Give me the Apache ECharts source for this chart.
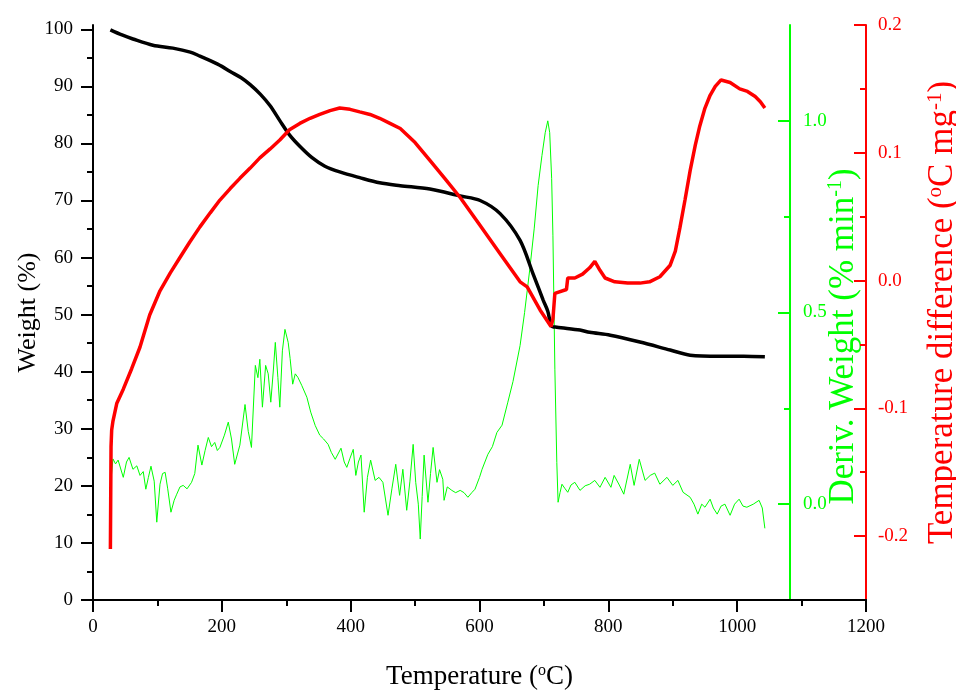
<!DOCTYPE html>
<html><head><meta charset="utf-8">
<script src="https://cdn.jsdelivr.net/npm/echarts@6/dist/echarts.min.js"></script>
<style>html,body{margin:0;padding:0;background:#fff}#c{width:956px;height:690px}</style>
</head><body><div id="c"></div>
<script>
// TGA weight curve (black)
const tgaTemp = [27,45,62,93,124,151,166,182,200,213,230,244,260,275,290,305,321,340,360,383,414,445,477,523,570,601,632,663,683,699,706,712,720,756,771,803,849,896,927,973,1010,1043];
const tgaWeight = [99.9,99.0,98.3,97.2,96.7,96.0,95.3,94.5,93.5,92.6,91.5,90.3,88.6,86.6,84.0,81.5,79.5,77.5,76.0,75.0,74.0,73.1,72.6,72.0,70.8,70.0,67.7,63.0,57.2,52.5,50.6,48.0,47.8,47.3,46.9,46.4,45.2,43.8,42.9,42.7,42.7,42.6];
// DTA temperature difference curve (red)
const dtaTemp = [27,27.5,28,29,31,37,47,60,73,88,104,120,135,150,166,182,197,213,228,244,259,275,290,305,321,337,352,368,383,399,414,430,445,461,477,500,523,546,570,601,632,663,674,694,711,714,717,735,737,748,760,771,779,787,795,810,830,849,864,880,896,904,911,919,927,935,942,950,958,966,975,989,1004,1016,1028,1036,1043];
const dtaDiff = [-0.21,-0.17,-0.13,-0.117,-0.110,-0.096,-0.085,-0.069,-0.052,-0.027,-0.008,0.006,0.018,0.030,0.042,0.053,0.063,0.072,0.080,0.088,0.096,0.103,0.110,0.118,0.123,0.127,0.130,0.133,0.135,0.134,0.132,0.130,0.127,0.123,0.119,0.108,0.094,0.080,0.065,0.043,0.021,-0.001,-0.005,-0.023,-0.036,-0.030,-0.010,-0.007,0.002,0.002,0.005,0.010,0.015,0.008,0.002,-0.001,-0.002,-0.002,-0.001,0.003,0.012,0.023,0.041,0.063,0.086,0.106,0.121,0.135,0.145,0.152,0.157,0.155,0.150,0.148,0.144,0.140,0.135];
// DTG derivative weight curve (green)
const dtgTemp = [28,31,35,39,47,52,56,62,68,73,78,82,86,90,95,99,104,108,112,116,121,126,130,135,140,146,153,158,163,169,174,179,184,189,193,197,204,210,215,220,228,236,241,246,252,256,259,263,268,272,276,280,283,287,290,294,298,303,306,310,314,318,324,332,338,345,352,358,365,370,376,385,390,394,399,404,408,412,416,421,426,431,438,444,450,458,464,470,476,481,487,492,497,501,505,508,511,514,520,524,528,534,538,543,545,550,557,563,570,576,582,588,593,600,604,613,620,627,635,644,652,663,670,678,685,691,697,702,706,709,712,714,717,720,722,725,728,733,737,742,748,756,764,771,779,787,795,804,809,817,824,834,840,848,857,865,872,880,891,900,908,916,927,933,939,945,950,958,963,969,975,981,989,996,1003,1009,1015,1025,1034,1039,1043];
const dtgDeriv = [0.065,0.118,0.105,0.115,0.070,0.110,0.122,0.091,0.100,0.075,0.085,0.039,0.070,0.099,0.060,-0.047,0.052,0.080,0.083,0.040,-0.021,0.010,0.026,0.045,0.049,0.040,0.057,0.080,0.154,0.102,0.140,0.174,0.150,0.161,0.140,0.148,0.180,0.214,0.170,0.104,0.154,0.260,0.190,0.148,0.362,0.330,0.378,0.253,0.362,0.340,0.266,0.350,0.422,0.330,0.253,0.400,0.456,0.422,0.380,0.313,0.340,0.331,0.310,0.279,0.240,0.205,0.180,0.170,0.156,0.135,0.117,0.146,0.110,0.096,0.120,0.143,0.075,0.110,0.128,-0.021,0.070,0.115,0.062,0.070,0.057,-0.029,0.040,0.104,0.023,0.091,-0.016,0.060,0.156,0.057,0.000,-0.091,0.020,0.128,0.005,0.080,0.148,0.057,0.090,0.065,0.010,0.045,0.036,0.030,0.036,0.030,0.018,0.030,0.039,0.070,0.091,0.130,0.150,0.187,0.206,0.266,0.320,0.414,0.500,0.612,0.720,0.831,0.910,0.969,1.000,0.969,0.850,0.700,0.352,0.109,0.005,0.030,0.052,0.040,0.031,0.050,0.057,0.036,0.048,0.052,0.062,0.044,0.070,0.044,0.075,0.050,0.026,0.104,0.049,0.117,0.062,0.075,0.081,0.052,0.070,0.049,0.062,0.031,0.018,0.000,-0.026,0.000,-0.008,0.013,-0.010,-0.026,-0.005,0.000,-0.029,0.000,0.013,-0.005,-0.008,0.000,0.010,-0.010,-0.063];
// tick values
const weightTicks = [0,10,20,30,40,50,60,70,80,90,100];
const weightMinor = [5,15,25,35,45,55,65,75,85,95];
const derivTicks = [0,0.5,1.0];
const derivMinor = [0.25,0.75];
const diffTicks = [-0.2,-0.1,0,0.1,0.2];
const diffMinor = [-0.15,-0.05,0.05,0.15];

const FONT = 'Liberation Serif';
const GREEN = '#00ff00';
const RED = '#ff0000';
const zip = (a, b) => a.map((v, i) => [v, b[i]]);

function mainY(o) {
  return Object.assign({
    type: 'value', gridIndex: 0, splitLine: {show: false}, nameMoveOverlap: false,
    axisLine: {show: true, lineStyle: {color: o.color, width: 2}},
    axisTick: {show: true, inside: o.inside, length: 12, customValues: o.ticks, lineStyle: {color: o.color, width: 2}},
    axisLabel: {show: true, customValues: o.ticks, margin: o.margin, color: o.color, fontFamily: FONT, fontSize: 19, formatter: o.fmt}
  }, o.extra);
}
function minorY(o) {
  return {
    type: 'value', gridIndex: 0, position: o.position, offset: o.offset || 0, min: o.min, max: o.max,
    splitLine: {show: false}, axisLine: {show: false},
    axisTick: {show: true, inside: o.inside, length: 6, customValues: o.ticks, lineStyle: {color: o.color, width: 2}},
    axisLabel: {show: false}
  };
}

const chart = echarts.init(document.getElementById('c'), null, {renderer: 'canvas'});
chart.setOption({
  animation: false,
  backgroundColor: '#ffffff',
  grid: {left: 93, right: 90, top: 25, bottom: 90, containLabel: false, outerBoundsMode: 'none'},
  xAxis: [
    {
      type: 'value', min: 0, max: 1200, interval: 200, position: 'bottom', nameMoveOverlap: false,
      axisLine: {lineStyle: {color: '#000', width: 2}},
      axisTick: {length: 12, lineStyle: {color: '#000', width: 2}},
      minorTick: {show: true, splitNumber: 2, length: 6, lineStyle: {color: '#000', width: 2}},
      splitLine: {show: false}, minorSplitLine: {show: false},
      axisLabel: {margin: 18, color: '#000', fontFamily: FONT, fontSize: 19, formatter: v => String(v)},
      name: 'Temperature ({s|o}C)', nameLocation: 'middle', nameGap: 63,
      nameTextStyle: {color: '#000', fontFamily: FONT, fontSize: 27, rich: {s: {fontSize: 16, verticalAlign: 'top', fontFamily: FONT, color: '#000'}}}
    },
    {
      type: 'value', min: 0, max: 1200, position: 'top',
      axisLine: {lineStyle: {color: '#000', width: 2}},
      axisTick: {show: false}, axisLabel: {show: false}, splitLine: {show: false}
    }
  ],
  yAxis: [
    mainY({color: '#000', inside: false, ticks: weightTicks, margin: 20, fmt: v => String(v), extra: {
      position: 'left', min: 0, max: 100.75,
      name: 'Weight (%)', nameLocation: 'middle', nameGap: 52,
      nameTextStyle: {color: '#000', fontFamily: FONT, fontSize: 26}
    }}),
    minorY({position: 'left', min: 0, max: 100.75, inside: false, ticks: weightMinor, color: '#000'}),
    mainY({color: GREEN, inside: true, ticks: derivTicks, margin: 13, fmt: v => Number(v).toFixed(1), extra: {
      position: 'right', offset: -76, min: -0.25, max: 1.25,
      name: 'Deriv. Weight (% min{s|-1})', nameLocation: 'middle', nameGap: 36,
      nameTextStyle: {color: GREEN, fontFamily: FONT, fontSize: 35, padding: [0, 48, 0, 0], rich: {s: {fontSize: 20, verticalAlign: 'top', fontFamily: FONT, color: GREEN}}}
    }}),
    minorY({position: 'right', offset: -76, min: -0.25, max: 1.25, inside: true, ticks: derivMinor, color: GREEN}),
    mainY({color: RED, inside: true, ticks: diffTicks, margin: 12, fmt: v => Number(v).toFixed(1), extra: {
      position: 'right', offset: 0, min: -0.25, max: 0.2,
      name: 'Temperature difference ({s|o}C mg{s|-1})', nameLocation: 'middle', nameGap: 59,
      nameTextStyle: {color: RED, fontFamily: FONT, fontSize: 35, rich: {s: {fontSize: 21, verticalAlign: 'top', fontFamily: FONT, color: RED}}}
    }}),
    minorY({position: 'right', offset: 0, min: -0.25, max: 0.2, inside: true, ticks: diffMinor, color: RED})
  ],
  series: [
    {type: 'line', name: 'DTG', xAxisIndex: 0, yAxisIndex: 2, data: zip(dtgTemp, dtgDeriv), symbol: 'none', lineStyle: {color: GREEN, width: 1}, z: 2},
    {type: 'line', name: 'TGA', xAxisIndex: 0, yAxisIndex: 0, data: zip(tgaTemp, tgaWeight), symbol: 'none', smooth: 0.3, lineStyle: {color: '#000', width: 3.5}, z: 3},
    {type: 'line', name: 'DTA', xAxisIndex: 0, yAxisIndex: 4, data: zip(dtaTemp, dtaDiff), symbol: 'none', lineStyle: {color: RED, width: 3.5}, z: 4}
  ]
});
</script>
</body></html>
